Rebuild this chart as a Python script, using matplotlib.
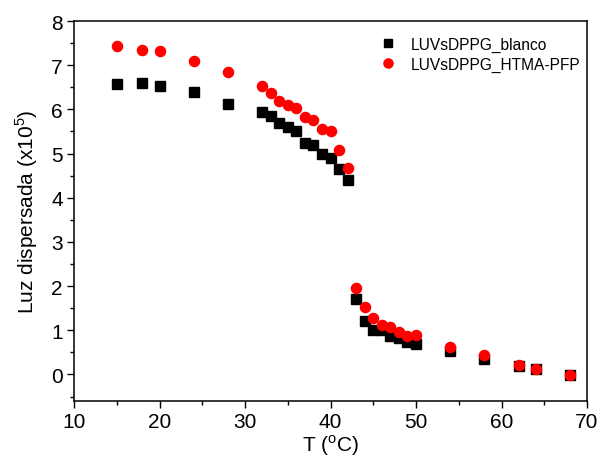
import matplotlib
matplotlib.use("Agg")
import matplotlib.pyplot as plt
from matplotlib.ticker import MultipleLocator

plt.rcParams["font.family"] = ["Liberation Sans", "DejaVu Sans"]
plt.rcParams["mathtext.fontset"] = "custom"
plt.rcParams["mathtext.rm"] = "Liberation Sans"

# temperatures (°C)
temp = [15, 18, 20, 24, 28, 32, 33, 34, 35, 36, 37, 38, 39, 40, 41, 42,
        43, 44, 45, 46, 47, 48, 49, 50, 54, 58, 62, 64, 68]

# scattered light (x10^5)
blanco = [6.58, 6.59, 6.52, 6.40, 6.13, 5.94, 5.86, 5.69, 5.59, 5.51, 5.25,
          5.19, 4.98, 4.91, 4.65, 4.40,
          1.71, 1.22, 1.01, 1.01, 0.88, 0.82, 0.74, 0.69, 0.54, 0.36, 0.19,
          0.12, -0.02]
htma_pfp = [7.43, 7.34, 7.32, 7.09, 6.84, 6.53, 6.37, 6.19, 6.10, 6.02, 5.82,
            5.77, 5.56, 5.51, 5.09, 4.68,
            1.95, 1.53, 1.28, 1.13, 1.07, 0.97, 0.87, 0.89, 0.63, 0.45, 0.22,
            0.13, -0.01]

fig = plt.figure(figsize=(5.99, 4.64), dpi=100)
ax = fig.add_axes([74 / 599, 62 / 464, 513 / 599, 380 / 464])

ax.plot(temp, blanco, "s", color="black", markersize=6.5, linestyle="none",
        label="LUVsDPPG_blanco")
ax.plot(temp, htma_pfp, "o", color="#ff0000", markersize=7.3, linestyle="none",
        label="LUVsDPPG_HTMA-PFP")

ax.set_xlim(10, 70)
ax.set_ylim(-0.6, 8)
ax.xaxis.set_major_locator(MultipleLocator(10))
ax.xaxis.set_minor_locator(MultipleLocator(5))
ax.yaxis.set_major_locator(MultipleLocator(1))
ax.yaxis.set_minor_locator(MultipleLocator(0.5))

ax.tick_params(which="major", direction="out", length=5, width=1.0,
               labelsize=15, pad=3)
ax.tick_params(which="minor", direction="out", length=3, width=1.0)
for s in ax.spines.values():
    s.set_linewidth(1.1)

ax.set_xlabel(r"T ($^{\mathregular{o}}$C)", fontsize=15, labelpad=1)
ax.set_ylabel(r"Luz dispersada (x10$^{\mathregular{5}}$)", fontsize=15,
              labelpad=8)

ax.legend(loc="upper right", frameon=False, fontsize=11.2, handletextpad=0.9,
          borderaxespad=0.0, labelspacing=0.3, handlelength=1.2,
          markerscale=0.9, bbox_to_anchor=(1.0, 0.975))

fig.savefig("out.png", dpi=100)
